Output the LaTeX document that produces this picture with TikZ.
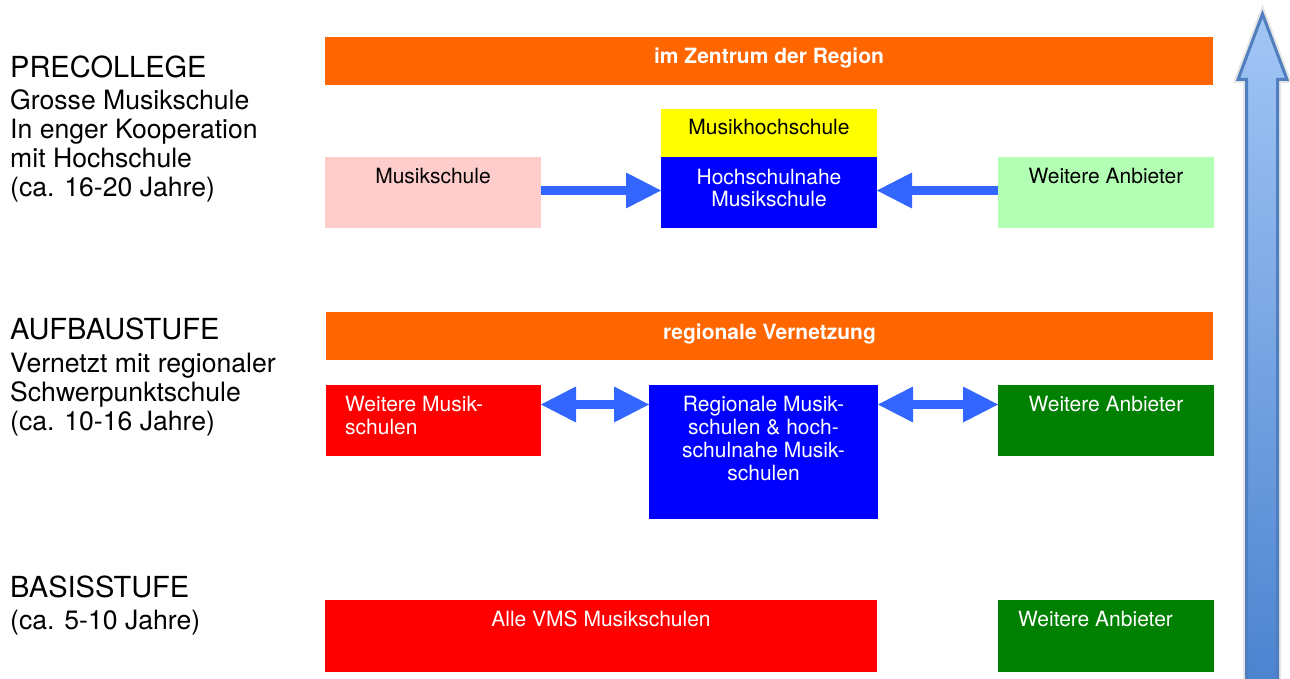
\documentclass[tikz,border=0pt]{standalone}
\usepackage{fontspec}
\setmainfont{TeX Gyre Heros}
\usetikzlibrary{arrows.meta}
\definecolor{cOrange}{HTML}{FF6600}
\definecolor{cYellow}{HTML}{FFFF00}
\definecolor{cBlue}{HTML}{0000FF}
\definecolor{cPink}{HTML}{FFCCCC}
\definecolor{cLightGreen}{HTML}{B3FFB3}
\definecolor{cRed}{HTML}{FF0000}
\definecolor{cGreen}{HTML}{008000}
\definecolor{cArrow}{HTML}{3366FF}
\definecolor{bigTop}{HTML}{A3C6F5}
\definecolor{bigBot}{HTML}{4A82CF}
\definecolor{bigLine}{HTML}{4F7FBE}
\begin{document}
\begin{tikzpicture}[x=1pt,y=-1pt,
  box/.style={draw=none, inner sep=0pt, outer sep=0pt, anchor=north west},
  txt/.style={inner sep=0pt, font=\fontsize{21pt}{23pt}\selectfont},
  bartxt/.style={txt, text=white, font=\fontsize{21pt}{23pt}\selectfont\bfseries, anchor=base},
  lab/.style={inner sep=0pt, font=\fontsize{26.6pt}{29pt}\selectfont},
  head/.style={inner sep=0pt, anchor=base west, font=\fontsize{29pt}{31pt}\selectfont},
  conn/.style={draw=cArrow, line width=8.5pt},
  tipA/.tip={Triangle[length=35pt,width=36pt,line width=0pt]}
]
\useasboundingbox (0,0) rectangle (1290,679);

% big upward arrow
\begin{scope}
\clip (0,0) rectangle (1290,679);
\path[draw=black!10, line width=7pt, line join=miter]
  (1246.5,700) -- (1246.5,79.5) -- (1238,79.5) -- (1262.5,14) -- (1287,79.5) -- (1277.5,79.5) -- (1277.5,700) -- cycle;
\path[draw=bigLine, line width=3pt, line join=miter, top color=bigTop, bottom color=bigBot]
  (1246.5,700) -- (1246.5,79.5) -- (1238,79.5) -- (1262.5,14) -- (1287,79.5) -- (1277.5,79.5) -- (1277.5,700) -- cycle;
\end{scope}

% ---- PRECOLLEGE row
\node[box, fill=cOrange, minimum width=888pt, minimum height=48pt] (bar1) at (325,37) {};
\node[bartxt] (bar1t) at ([yshift=-27pt]bar1.north) {im Zentrum der Region};
\node[box, fill=cYellow, minimum width=216pt, minimum height=48pt] (mhs) at (661,109) {};
\node[txt, anchor=base] (mhst) at ([yshift=-26pt]mhs.north) {Musikhochschule};
\node[box, fill=cBlue, minimum width=216pt, minimum height=71pt] (hnm) at (661,157) {};
\node[txt, anchor=north, align=center, text=white, font=\fontsize{21pt}{22pt}\selectfont] (hnmt) at ([yshift=-12pt]hnm.north) {Hochschulnahe\\Musikschule};
\node[box, fill=cPink, minimum width=216pt, minimum height=71pt] (ms) at (325,157) {};
\node[txt, anchor=base] (mst) at ([yshift=-27pt]ms.north) {Musikschule};
\node[box, fill=cLightGreen, minimum width=216pt, minimum height=71pt] (wa1) at (998,157) {};
\node[txt, anchor=base] (wa1t) at ([yshift=-27pt]wa1.north) {Weitere Anbieter};

\draw[conn, -tipA] ([yshift=2pt]ms.east) -- ([yshift=2pt]hnm.west);
\draw[conn, -tipA] ([yshift=2pt]wa1.west) -- ([yshift=2pt]hnm.east);

% ---- AUFBAUSTUFE row
\node[box, fill=cOrange, minimum width=887pt, minimum height=48pt] (bar2) at (326,312) {};
\node[bartxt] (bar2t) at ([yshift=-27pt]bar2.north) {regionale Vernetzung};
\node[box, fill=cRed, minimum width=215pt, minimum height=71pt] (wm) at (326,385) {};
\node[txt, anchor=north west, align=left, text=white] (wmt) at ([xshift=19pt,yshift=-11pt]wm.north west) {Weitere Musik-\\schulen};
\node[box, fill=cBlue, minimum width=229pt, minimum height=134pt] (reg) at (649,385) {};
\node[txt, anchor=north, align=center, text=white] (regt) at ([yshift=-11pt]reg.north) {Regionale Musik-\\schulen \& hoch-\\schulnahe Musik-\\schulen};
\node[box, fill=cGreen, minimum width=216pt, minimum height=71pt] (wa2) at (998,385) {};
\node[txt, anchor=base, text=white] (wa2t) at ([yshift=-26pt]wa2.north) {Weitere Anbieter};

\coordinate (m1) at ([yshift=16pt]wm.east);
\coordinate (m2) at ([yshift=16pt]wa2.west);
\draw[conn, tipA-tipA] (m1) -- (m1 -| reg.west);
\draw[conn, tipA-tipA] (m2 -| reg.east) -- (m2);

% ---- BASISSTUFE row
\node[box, fill=cRed, minimum width=552pt, minimum height=72pt] (vms) at (325,600) {};
\node[txt, anchor=base, text=white] (vmst) at ([yshift=-26pt]vms.north) {Alle VMS Musikschulen};
\node[box, fill=cGreen, minimum width=216pt, minimum height=72pt] (wa3) at (998,600) {};
\node[txt, anchor=base west, text=white] (wa3t) at ([xshift=20pt,yshift=-26pt]wa3.north west) {Weitere Anbieter};

% ---- left labels
\node[head] (pc) at (10,78) {PRECOLLEGE};
\node[lab, anchor=north west, align=left] (pcb) at (10,89) {Grosse Musikschule\\In enger Kooperation\\mit Hochschule\\(ca. 16-20 Jahre)};
\node[head] (au) at (10,339) {AUFBAUSTUFE};
\node[lab, anchor=north west, align=left] (aub) at (10,353) {Vernetzt mit regionaler\\Schwerpunktschule\\(ca. 10-16 Jahre)};
\node[head] (bs) at (10,597) {BASISSTUFE};
\node[lab, anchor=base west] (bsb) at (10,629) {(ca. 5-10 Jahre)};
\end{tikzpicture}
\end{document}
